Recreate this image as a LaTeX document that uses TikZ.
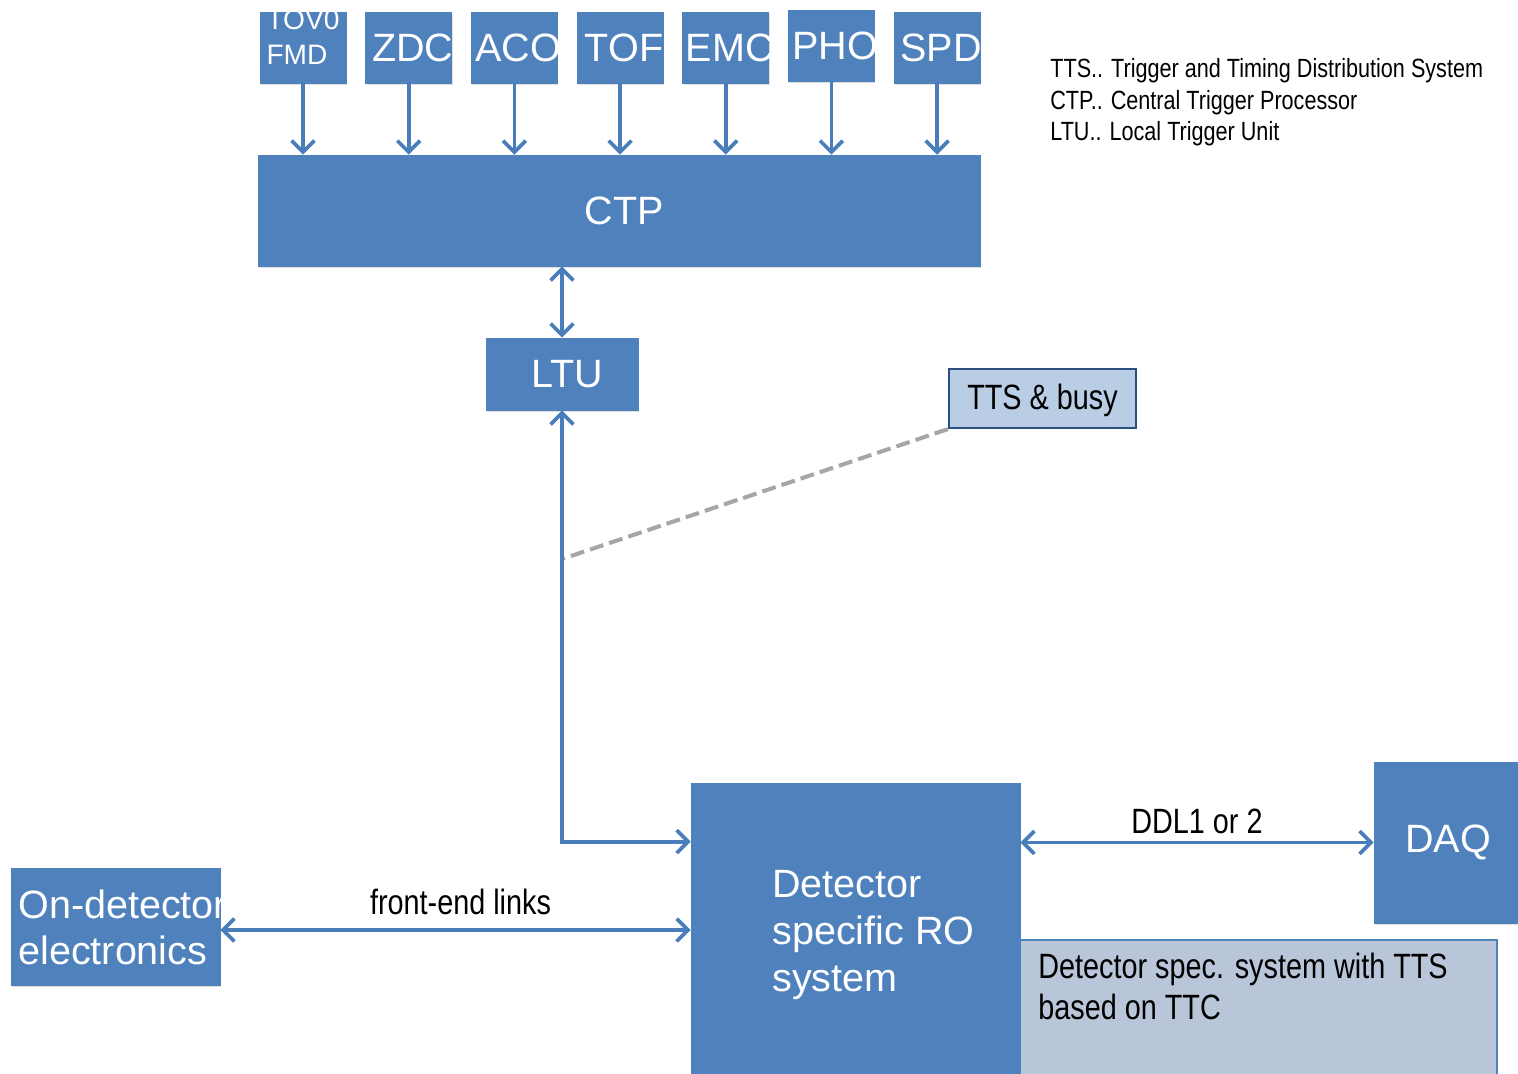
\documentclass[tikz,border=0pt]{standalone}
\usepackage{fontspec}
\setmainfont{Liberation Sans}
\newfontfamily\narrowfont[FakeStretch=0.82]{Liberation Sans}
\usetikzlibrary{arrows.meta,positioning,shadows}

\definecolor{boxblue}{HTML}{4F81BD}
\definecolor{linkblue}{HTML}{4A7EBB}
\definecolor{busyfill}{HTML}{B9CDE5}
\definecolor{busyedge}{HTML}{2A4F80}
\definecolor{specfill}{HTML}{B9C6D9}

\begin{document}
\begin{tikzpicture}[x=0.02cm, y=-0.02cm,
    block/.style={fill=boxblue, draw=boxblue, text=white, inner sep=0pt, font=\fontsize{22.5}{26.3}\selectfont,
        drop shadow={shadow xshift=0.6pt, shadow yshift=-1.2pt, opacity=0.25}},
    blocktext/.style={text=white, align=left, inner sep=0pt, font=\fontsize{22.5}{26.3}\selectfont},
    det/.style={block, minimum width=1.72cm, minimum height=1.42cm, label={[blocktext, xshift=0.08cm]center:#1}},
    note/.style={inner sep=0pt, font=\narrowfont\fontsize{20}{23.3}\selectfont},
    link/.style={draw=linkblue, line width=2.1pt, -{Straight Barb[length=6.5pt,width=13pt]}},
    duplex/.style={link, {Straight Barb[length=6.5pt,width=13pt]}-{Straight Barb[length=6.5pt,width=13pt]}},
    busyline/.style={draw=black!35, line width=2.3pt, dash pattern=on 8pt off 3.5pt},
    node distance=0.38cm
]
\useasboundingbox (0,0) rectangle (1518,1073);
\clip (0,0) rectangle (1518,1073);

% trigger inputs
\node[det=] (fmd) at (303,47.5) {};
\node[blocktext, font=\fontsize{16}{19.8}\selectfont] (fmdtext) at ([yshift=0.2cm]fmd.center) {TOV0\\FMD};
\node[det=ZDC, right=of fmd] (zdc) {};
\node[det=ACO, right=of zdc] (aco) {};
\node[det=TOF, right=of aco] (tof) {};
\node[det=EMC, right=of tof] (emc) {};
\node[det=PHO, right=of emc, yshift=0.04cm] (pho) {};
\node[det=SPD, right=of pho, yshift=-0.04cm] (spd) {};

\node[block, minimum width=14.44cm, minimum height=2.22cm, label={[blocktext, xshift=0.1cm]center:CTP}] (ctp) at (619,210.5) {};
\node[block, minimum width=3.04cm, minimum height=1.44cm, label={[blocktext, xshift=0.1cm]center:LTU}] (ltu) at (562,374) {};
\node[note, fill=busyfill, draw=busyedge, line width=1.2pt, minimum width=3.74cm, minimum height=1.18cm,
    text height=14pt, text depth=2pt] (busy) at (1042.5,398.5) {TTS \& busy};

\node[note, font=\narrowfont\fontsize{15}{18}\selectfont, align=left, anchor=north west] (keys) at (1050,58)
    {TTS.. Trigger and Timing Distribution System\\CTP.. Central Trigger Processor\\LTU.. Local Trigger Unit};

% readout side
\node[note, fill=specfill, draw=boxblue, line width=1pt, minimum width=9.54cm, minimum height=3.2cm] (spec) at (1258.5,1020) {};
\node[note, align=left, anchor=north west] (spectext) at (1038,953) {Detector spec. system with TTS\\based on TTC};
\node[block, minimum width=6.58cm, minimum height=6.34cm] (ro) at (855.5,941.5) {};
\node[blocktext, anchor=north west, font=\fontsize{22.5}{26.8}\selectfont] (rotext) at (772,870) {Detector\\specific RO\\system};
\node[block, minimum width=4.18cm, minimum height=2.34cm] (onl) at (115.5,926.5) {};
\node[blocktext, anchor=north west] (onltext) at (18,889) {On-detector\\electronics};
\node[block, minimum width=2.96cm, minimum height=3.22cm] (daq) at (1448,842.5) {DAQ};

% connections
\draw[link] (fmd.south) -- (fmd.south |- ctp.north);
\draw[link] (zdc.south) -- (zdc.south |- ctp.north);
\draw[link] (aco.south) -- (aco.south |- ctp.north);
\draw[link] (tof.south) -- (tof.south |- ctp.north);
\draw[link] (emc.south) -- (emc.south |- ctp.north);
\draw[link] (pho.south) -- (pho.south |- ctp.north);
\draw[link] (spd.south) -- (spd.south |- ctp.north);
\draw[duplex] (ltu.north) -- (ltu.north |- ctp.south);
\draw[busyline] (busy.south west) -- (ltu.south |- 0,559);
\draw[duplex] (ltu.south) |- ([yshift=-1.18cm]ro.north west);
\draw[duplex] ([yshift=-0.07cm]onl.east) -- ([yshift=-0.07cm]onl.east -| ro.west)
    node[note, midway, above=7.5pt, xshift=0.1cm] {front-end links};
\draw[duplex] (ro.east |- daq.west) -- (daq.west)
    node[note, midway, above=4pt] {DDL1 or 2};
\end{tikzpicture}
\end{document}
